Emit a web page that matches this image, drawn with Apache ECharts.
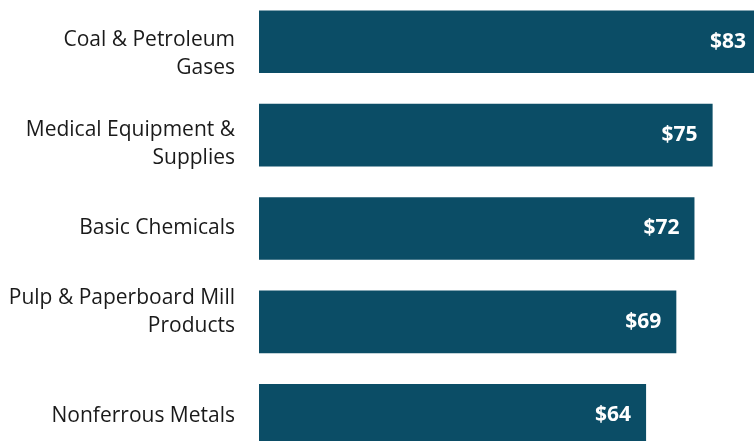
<!DOCTYPE html>
<html><head><meta charset="utf-8">
<script src="https://cdn.jsdelivr.net/npm/echarts@6/dist/echarts.min.js"></script>
<style>html,body{margin:0;padding:0;background:#fff;overflow:hidden;width:754px;height:441px}#c{position:absolute;left:0;top:-5px;width:761px;height:467px}</style>
</head><body><div id="c"></div>
<script>
const categories = ["Coal & Petroleum\nGases", "Medical Equipment &\nSupplies", "Basic Chemicals", "Pulp & Paperboard Mill\nProducts", "Nonferrous Metals"];
const values = [83, 75, 72, 69, 64];
// vertical label nudges (styling only, px)
const labelShift = [12.5, 9, 0, -10, 1];

const rich = {};
labelShift.forEach((s, i) => { rich['g' + i] = { lineHeight: Math.max(1, 2 * Math.abs(s)), fontSize: 1 }; });

const chart = echarts.init(document.getElementById('c'));
chart.setOption({
  animation: false,
  grid: { left: 259, right: 0, top: 0, bottom: 0, containLabel: false },
  xAxis: { type: 'value', min: 0, max: 83, show: false },
  yAxis: {
    type: 'category', inverse: true, data: categories,
    axisLine: { show: false }, axisTick: { show: false },
    axisLabel: {
      margin: 24, color: '#1a1a1a', fontFamily: 'Open Sans', fontSize: 21, lineHeight: 28, align: 'right',
      rich: rich,
      formatter: (v, i) => {
        const s = labelShift[i];
        if (!s) return v;
        const sp = '{g' + i + '|\u00a0}';
        return s > 0 ? sp + '\n' + v : v + '\n' + sp;
      }
    }
  },
  series: [{
    type: 'bar', data: values, barCategoryGap: '33%',
    itemStyle: { color: '#0B4D66' },
    label: { show: true, position: 'insideRight', distance: 15, color: '#fff', fontFamily: 'Open Sans', fontWeight: 'bold', fontSize: 21, formatter: p => '$' + p.value }
  }]
});
</script></body></html>
